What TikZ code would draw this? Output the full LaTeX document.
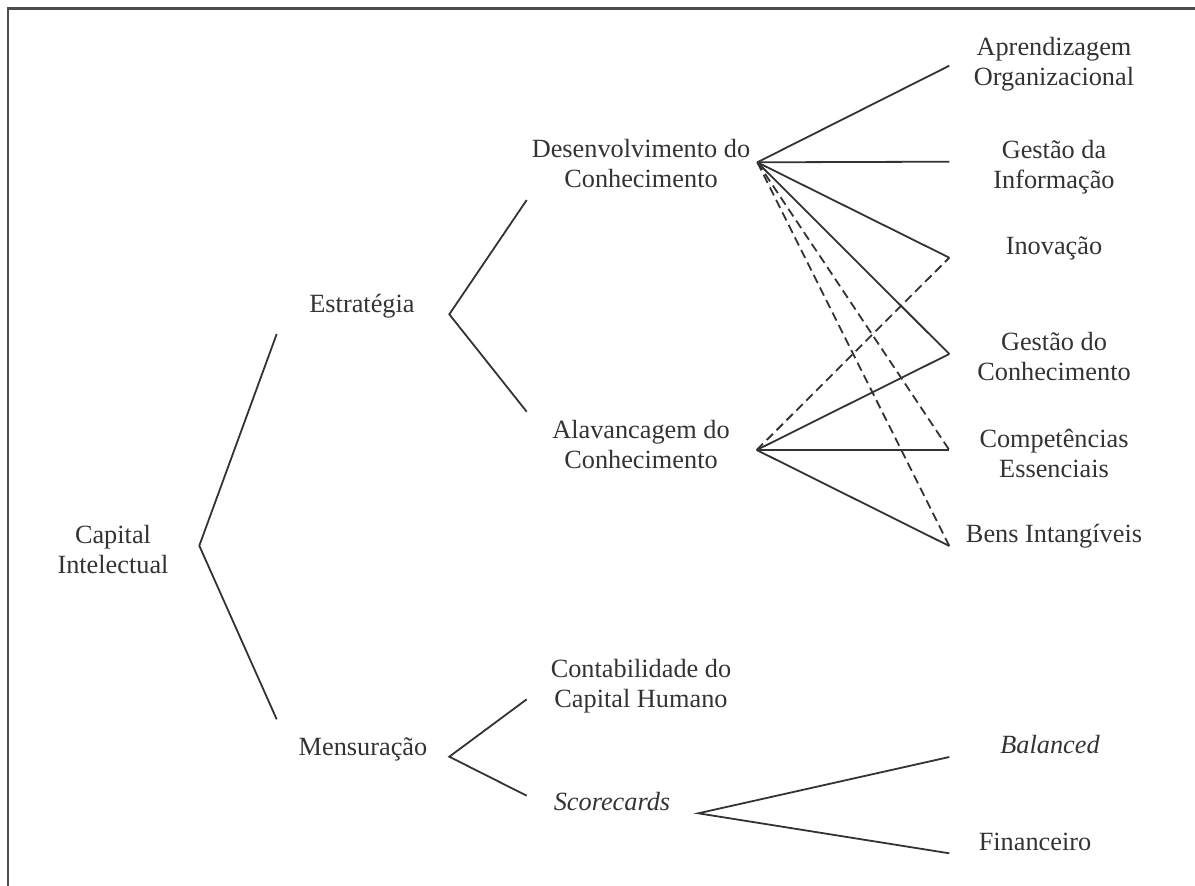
\documentclass[tikz,border=0pt]{standalone}
\usepackage{fontspec}
\setmainfont{Liberation Serif}
\newcommand{\twol}[2]{\begin{tabular}[b]{@{}c@{}}#1\\#2\end{tabular}}
\begin{document}
\begin{tikzpicture}[x=1pt,y=-1pt,
  lbl/.style={inner sep=0pt, anchor=base, text=black!80,
    font=\fontsize{26.3}{30}\selectfont},
  conn/.style={draw=black!80, line width=1.8pt},
  dconn/.style={conn, dash pattern=on 9pt off 5pt},
  frame/.style={draw=black!70, line width=2.6pt}]
\useasboundingbox (0,0) rectangle (1195,886);
% frame (top and left only)
\coordinate (fTR) at (1195,8.3);
\coordinate (fTL) at (7.8,8.3);
\coordinate (fBL) at (7.8,886);
\draw[frame] (fTR) -- (fTL) -- (fBL);

% text nodes
\node[lbl] (cap) at (113,573) {\twol{Capital}{Intelectual}};
\node[lbl] (est) at (362,312) {Estratégia};
\node[lbl] (men) at (363,755) {Mensuração};
\node[lbl] (des) at (641,187) {\twol{Desenvolvimento do}{Conhecimento}};
\node[lbl] (ala) at (641,468) {\twol{Alavancagem do}{Conhecimento}};
\node[lbl] (con) at (641,707) {\twol{Contabilidade do}{Capital Humano}};
\node[lbl] (sco) at (612,810) {\itshape Scorecards};
\node[lbl] (apr) at (1054,85) {\twol{Aprendizagem}{Organizacional}};
\node[lbl] (gi) at (1054,188) {\twol{Gestão da}{Informação}};
\node[lbl] (ino) at (1054,254) {Inovação};
\node[lbl] (gc) at (1054,380) {\twol{Gestão do}{Conhecimento}};
\node[lbl] (ce) at (1054,477) {\twol{Competências}{Essenciais}};
\node[lbl] (bi) at (1054,542) {Bens Intangíveis};
\node[lbl] (bal) at (1050,753) {\itshape Balanced};
\node[lbl] (fin) at (1035,850) {Financeiro};

% junction points and line ends
\coordinate (jCap) at (199.3,545.7);
\coordinate (eEst) at (276.7,334);
\coordinate (eMen) at (276.7,719.3);
\coordinate (jEst) at (449.3,314.3);
\coordinate (eDes) at (526.7,200);
\coordinate (eAla) at (526.7,411.7);
\coordinate (jMen) at (449.3,756.7);
\coordinate (eCon) at (526.7,699.3);
\coordinate (eSco) at (526.7,795.7);
\coordinate (jDes) at (757.3,162.3);
\coordinate (jAla) at (756.7,450);
\coordinate (jSco) at (698.3,813.3);
\coordinate (eApr) at (949.3,65.7);
\coordinate (eGi) at (949.3,161.7);
\coordinate (eIno) at (949.3,257.7);
\coordinate (eGc) at (949.3,354);
\coordinate (eCe) at (949.3,450);
\coordinate (eBi) at (949.3,546);
\coordinate (eBal) at (949.3,757);
\coordinate (eFin) at (949.3,853.3);

% connectors
\draw[conn] (eEst) -- (jCap) -- (eMen);
\draw[conn] (eDes) -- (jEst) -- (eAla);
\draw[conn] (eCon) -- (jMen) -- (eSco);
\draw[conn] (eBal) -- (jSco) -- (eFin);

\draw[conn] (jDes) -- (eApr);
\draw[conn] (jDes) -- (eGi);
\draw[conn] (jDes) -- (eIno);
\draw[conn] (jDes) -- (eGc);
\draw[dconn] (jDes) -- (eCe);
\draw[dconn] (jDes) -- (eBi);

\draw[dconn] (jAla) -- (eIno);
\draw[conn] (jAla) -- (eGc);
\draw[conn] (jAla) -- (eCe);
\draw[conn] (jAla) -- (eBi);
\end{tikzpicture}
\end{document}
